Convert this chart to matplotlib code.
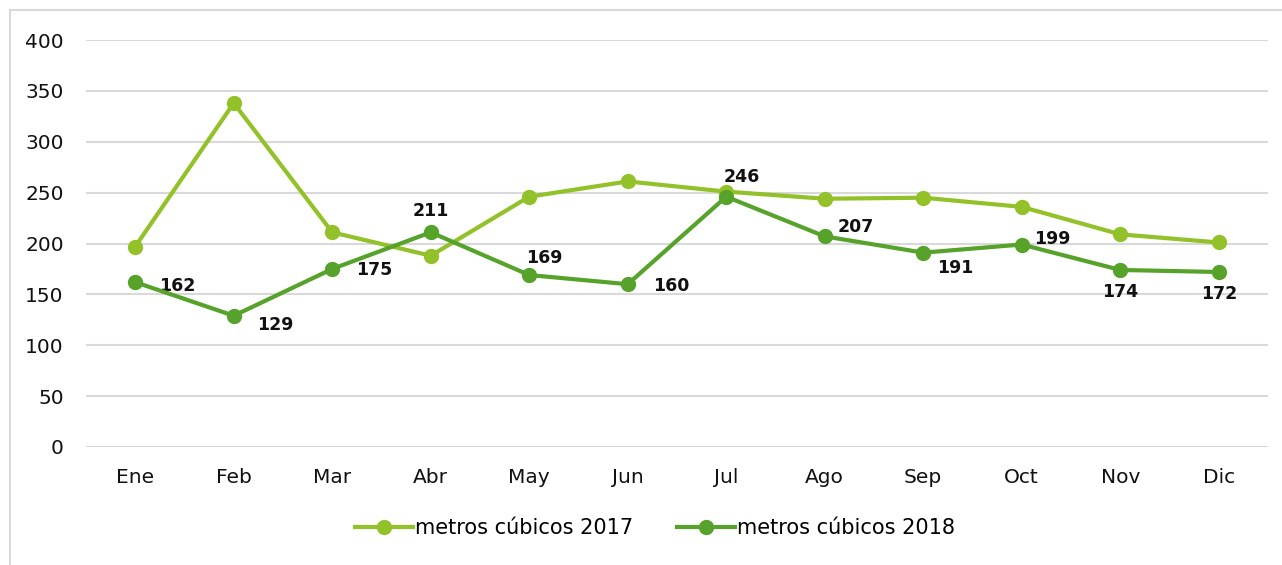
import matplotlib.pyplot as plt
from matplotlib.patches import Rectangle

months = ["Ene", "Feb", "Mar", "Abr", "May", "Jun", "Jul", "Ago", "Sep", "Oct", "Nov", "Dic"]
m3_2017 = [197, 338, 211, 188, 246, 261, 251, 244, 245, 236, 209, 201]
m3_2018 = [162, 129, 175, 211, 169, 160, 246, 207, 191, 199, 174, 172]

# label offsets (points) for the 2018 data labels
label_offsets = [(30, -3), (30, -7), (30, -1), (0, 15), (11, 12), (31, -1),
                 (11, 14), (22, 7), (23, -11), (22, 4), (0, -16), (0, -16)]

c2017 = "#92C12A"
c2018 = "#56A22B"

plt.rcParams["font.family"] = ["DejaVu Sans"]

fig = plt.figure(figsize=(12.82, 5.65), dpi=100)
fig.patches.append(Rectangle((10 / 1282, -0.1), 1.2, 1 - 10 / 565 + 0.1,
                             transform=fig.transFigure, fill=False,
                             edgecolor="#D9D9D9", linewidth=1.5))
ax = fig.add_axes([86 / 1282, 1 - 447 / 565, (1268 - 86) / 1282, (447 - 40) / 565])

x = list(range(len(months)))
ax.plot(x, m3_2017, color=c2017, lw=3, marker="o", ms=10, label="metros cúbicos 2017", zorder=3)
ax.plot(x, m3_2018, color=c2018, lw=3, marker="o", ms=10, label="metros cúbicos 2018", zorder=4)

for xi, v, (dx, dy) in zip(x, m3_2018, label_offsets):
    ax.annotate(str(v), (xi, v), xytext=(dx, dy), textcoords="offset points",
                ha="center", va="center", fontsize=12.5, fontweight="bold", color="#111111")

ax.set_xlim(-0.5, len(months) - 0.5)
ax.set_ylim(0, 400)
ax.set_yticks(range(0, 401, 50))
ax.set_xticks(x)
ax.set_xticklabels(months)
ax.grid(axis="y", color="#D9D9D9", lw=1.5)
ax.set_axisbelow(True)
for s in ax.spines.values():
    s.set_visible(False)
ax.tick_params(length=0, labelsize=14.5, colors="#111111")
ax.tick_params(axis="y", pad=16)
ax.tick_params(axis="x", pad=15)

ax.legend(loc="center", bbox_to_anchor=(655 / 1282, 1 - 528 / 565),
          bbox_transform=fig.transFigure, ncol=2, frameon=False, fontsize=15,
          handlelength=2.8, handletextpad=0.1, columnspacing=2.1)

fig.savefig("out.png", dpi=100)
